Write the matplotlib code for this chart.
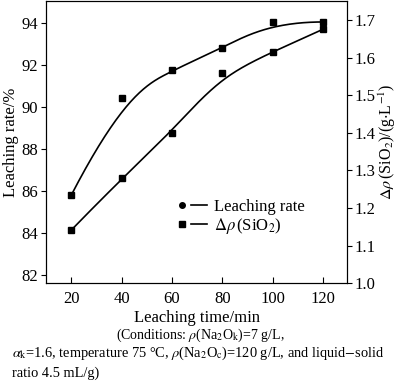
import numpy as np
import matplotlib
matplotlib.use("Agg")
import matplotlib.pyplot as plt
from matplotlib.lines import Line2D
from matplotlib.legend_handler import HandlerTuple

plt.rcParams['font.family'] = ['Liberation Serif', 'DejaVu Serif']
plt.rcParams['mathtext.fontset'] = 'stix'

time_min = [20, 40, 60, 80, 100, 120]
leaching_rate = [85.8, 90.43, 91.76, 92.8, 94.05, 94.05]
delta_rho_sio2 = [1.141, 1.279, 1.401, 1.560, 1.615, 1.676]
left_ticks = [82, 84, 86, 88, 90, 92, 94]
right_ticks = [1.0, 1.1, 1.2, 1.3, 1.4, 1.5, 1.6, 1.7]
x_ticks = [20, 40, 60, 80, 100, 120]


def bspline_curve(px, py, k=3, n=300):
    """Clamped B-spline using the data points as control points."""
    px = np.asarray(px, float)
    py = np.asarray(py, float)
    m = len(px)
    t = np.array([0] * k + list(range(m - k + 1)) + [m - k] * k, float)
    u = np.linspace(0, m - k, n)
    u[-1] -= 1e-9

    def basis(i, d):
        if d == 0:
            return ((t[i] <= u) & (u < t[i + 1])).astype(float)
        out = np.zeros_like(u)
        den1 = t[i + d] - t[i]
        den2 = t[i + d + 1] - t[i + 1]
        if den1 > 0:
            out += (u - t[i]) / den1 * basis(i, d - 1)
        if den2 > 0:
            out += (t[i + d + 1] - u) / den2 * basis(i + 1, d - 1)
        return out

    B = np.array([basis(i, k) for i in range(m)])
    return B.T @ px, B.T @ py


fig = plt.figure(figsize=(4.0, 3.9), dpi=100)
ax = fig.add_axes([0.115, 0.274, 0.7525, 0.723])
ax2 = ax.twinx()

cx1, cy1 = bspline_curve(time_min, leaching_rate)
cx2, cy2 = bspline_curve(time_min, delta_rho_sio2)

ax.plot(cx1, cy1, color='black', lw=1.2)
ax.plot(time_min, leaching_rate, 's', color='black', ms=4.5)
ax2.plot(cx2, cy2, color='black', lw=1.2)
ax2.plot(time_min, delta_rho_sio2, 's', color='black', ms=4.5)

ax.set_xlim(10, 129.5)
ax.set_ylim(81.62, 95.04)
ax2.set_ylim(1.0, 1.7507)
ax.set_xticks(x_ticks)
ax.set_yticks(left_ticks)
ax2.set_yticks(right_ticks)
ax2.set_yticklabels([f"{v:.1f}" for v in right_ticks])

ax.tick_params(axis='x', direction='in', length=4, labelsize=12, pad=6)
ax.tick_params(axis='y', direction='out', length=3.5, labelsize=12, pad=2)
ax2.tick_params(axis='y', direction='out', length=3.5, labelsize=12, pad=2)

ax.set_xlabel("Leaching time/min", fontsize=12, labelpad=2)
ax.set_ylabel("Leaching rate/%", fontsize=12, labelpad=2)
ax2.set_ylabel(r"$\Delta\rho\,$(SiO$_2$)/(g$\cdot$L$^{-1}$)", fontsize=11.5, labelpad=1)

h_circ = Line2D([], [], marker='o', color='black', ls='none', ms=4)
h_sq = Line2D([], [], marker='s', color='black', ls='none', ms=4)
h_line = Line2D([], [], color='black', lw=1.2)
ax.legend([(h_circ, h_line), (h_sq, h_line)],
          ["Leaching rate", r"$\Delta\rho\,$(SiO$_2$)"],
          handler_map={tuple: HandlerTuple(ndivide=2, pad=0.0)},
          loc='upper left', bbox_to_anchor=(0.425, 0.30), frameon=False,
          fontsize=12, handlelength=2.0, handletextpad=0.4, labelspacing=0.1,
          borderaxespad=0, borderpad=0)

fig.text(0.5, 0.140, r"(Conditions: $\rho$(Na$_2$O$_\mathrm{k}$)=7 g/L,", ha='center', va='center', fontsize=10)
fig.text(0.03, 0.095, r"$\alpha_\mathrm{k}$=1.6, temperature 75 °C, $\rho$(Na$_2$O$_\mathrm{c}$)=120 g/L, and liquid$-$solid",
         ha='left', va='center', fontsize=10.4)
fig.text(0.03, 0.044, "ratio 4.5 mL/g)", ha='left', va='center', fontsize=10.4)

fig.savefig("out.png", dpi=100)
